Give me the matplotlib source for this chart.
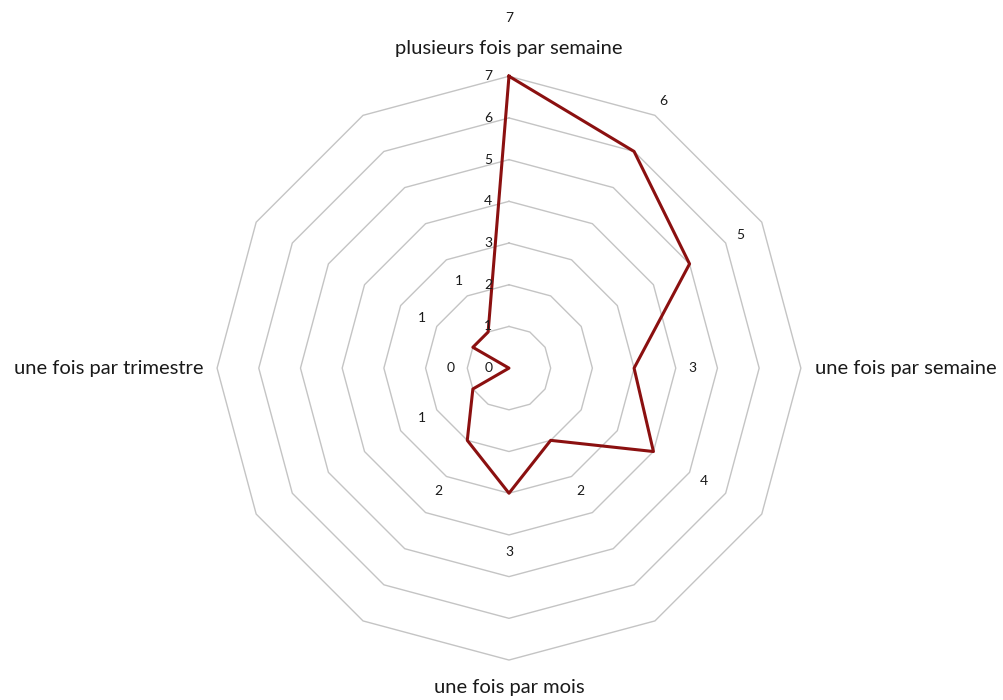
import numpy as np
import matplotlib
matplotlib.use("Agg")
import matplotlib.pyplot as plt

# 12 spokes, clockwise from the top; only every third one carries a label
categories = ["plusieurs fois par semaine", "", "", "une fois par semaine", "", "",
              "une fois par mois", "", "", "une fois par trimestre", "", ""]
values = [7, 6, 5, 3, 4, 2, 3, 2, 1, 0, 1, 1]
rings = [1, 2, 3, 4, 5, 6, 7]
rmax = 7

plt.rcParams['font.family'] = ['Lato', 'DejaVu Sans']

fig = plt.figure(figsize=(10.04, 7.0), dpi=100)
ax = fig.add_axes([0.2161, 0.0571, 0.5817, 0.834], projection='polar')
ax.set_theta_zero_location('N')
ax.set_theta_direction(-1)
ax.set_ylim(0, rmax)
ax.grid(False)
ax.spines['polar'].set_visible(False)
ax.set_xticks([])
ax.set_yticks([])
ax.patch.set_alpha(0)

n = len(categories)
theta = np.arange(n) * 2 * np.pi / n
theta_c = np.append(theta, theta[0])

# dodecagon gridlines
for r in rings:
    ax.plot(theta_c, [r] * (n + 1), color='#c4c4c4', lw=1.0, zorder=1, clip_on=False)

# data line
vals_c = values + [values[0]]
ax.plot(theta_c, vals_c, color='#8b1010', lw=2.2, zorder=3, clip_on=False)

txt = '#1a1a1a'
# radial axis labels along the top spoke
for r in [0] + rings:
    ax.annotate(str(r), (0, r), xytext=(-12, 0), textcoords='offset points',
                ha='right', va='center', fontsize=10, color=txt)

# data labels, pushed outward from each point
for t, v in zip(theta, values):
    ax.text(t, v + 1.4, str(v), ha='center', va='center', fontsize=10, color=txt)

# category labels
for t, lab in zip(theta, categories):
    if not lab:
        continue
    deg = np.degrees(t)
    if deg == 0 or deg == 180:
        ax.text(t, rmax + 0.67, lab, ha='center', va='center', fontsize=14.5, color=txt)
    elif deg < 180:
        ax.text(t, rmax + 0.33, lab, ha='left', va='center', fontsize=14.5, color=txt)
    else:
        ax.text(t, rmax + 0.33, lab, ha='right', va='center', fontsize=14.5, color=txt)

fig.savefig('out.png', dpi=100, facecolor='white')
